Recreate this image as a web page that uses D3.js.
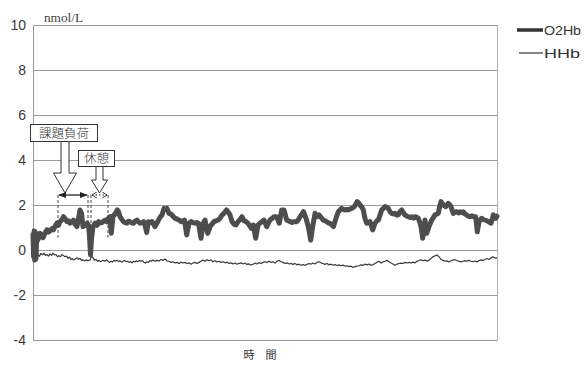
<!DOCTYPE html>
<html>
<head>
<meta charset="utf-8">
<script src="https://cdn.jsdelivr.net/npm/d3@7"></script>
<style>
  html, body { margin: 0; padding: 0; background: #fff; }
  svg { display: block; }
</style>
</head>
<body>
<svg id="chart" width="586" height="365"></svg>
<script>
// Concentration change (nmol/L) over elapsed time
const yTicks = [-4, -2, 0, 2, 4, 6, 8, 10];
const timeDomain = [0, 464];

// O2Hb: [time, value]
const o2hb = [[0,0.7],[0.6,-0.3],[1.2,0.85],[1.8,-0.45],[2.4,0.8],[3,-0.4],[3.7,0.6],[5,0.45],[7,0.74],[8.5,0.6],[10,0.55],[12,0.75],[14,0.9],[15.5,0.8],[17,0.85],[19,0.95],[20.5,0.9],[22,1.05],[24,1.2],[25.5,1.1],[27,1.26],[29,1.35],[30.5,1.48],[32,1.4],[34,1.26],[35.5,1.3],[37,1.19],[39,1.25],[40.5,1.33],[42,1.15],[44,1.04],[45.5,1.4],[47,1.78],[48.5,1.63],[50,1.04],[52,1.1],[54,1.19],[55.5,1.1],[56.5,0.6],[57.5,-0.22],[58.5,0.5],[60,1.04],[62,1.19],[64,1.1],[65.5,1.26],[67,1.2],[69,1.22],[71,1.3],[72.5,1.33],[74,1.25],[75.5,1.41],[77,1.48],[78.3,0.74],[80,1.5],[82,1.6],[84.3,1.78],[85.5,1.7],[87,1.48],[89,1.35],[90.5,1.26],[92,1.22],[94,1.19],[95.5,1.28],[97,1.26],[99,1.2],[100.5,1.19],[102,1.28],[104,1.33],[105.5,1.25],[107,1.19],[109,1.22],[110.5,1.26],[112,1.1],[113.7,0.78],[115.3,1.26],[117,1.22],[119,1.26],[120.5,1.15],[122,1.04],[124,1.2],[125.5,1.33],[127,1.45],[129,1.56],[131,1.85],[132.5,1.8],[134,1.85],[136,1.63],[138,1.6],[140,1.5],[142,1.41],[144,1.38],[146,1.33],[148,1.26],[150,1.3],[151.5,1.33],[153.7,0.67],[156,1.19],[158,1.26],[160,1.22],[162,1.19],[164,1.22],[165.5,1.19],[168,0.52],[170.3,1.19],[172,1.33],[174.7,0.74],[177,1.04],[179,1.15],[181,1.26],[183,1.3],[185,1.33],[187,1.41],[189,1.55],[191,1.63],[193.5,1.78],[195,1.7],[197,1.56],[199,1.26],[201,1.15],[203,1.11],[205,1.26],[207,1.35],[209,1.48],[211,1.3],[213,1.26],[215,1.19],[217,1.05],[218.5,0.96],[220.3,1.11],[222.7,0.52],[225,1.11],[227,1.2],[229,1.26],[231,1.33],[233.7,1.04],[235.5,1.2],[237,1.33],[239,1.4],[241,1.48],[243.5,1.48],[246.3,1.19],[248.7,1.78],[251,1.78],[253.7,1.33],[255.5,1.3],[257,1.26],[259,1.22],[261,1.26],[263.5,1.26],[265.5,1.35],[267,1.48],[269,1.6],[270.5,1.7],[273,1.41],[275.3,1.04],[277.7,0.44],[279.7,1.04],[282,1.63],[284,1.48],[286,1.56],[288,1.45],[290.3,1.33],[292,1.3],[293.7,1.26],[295.5,1.2],[297,1.19],[299,1.1],[300.5,1.04],[303,1.41],[305.3,1.7],[307,1.78],[308.7,1.85],[310.5,1.8],[312,1.78],[314,1.8],[315.5,1.78],[317,1.82],[318.7,1.85],[321.3,1.93],[323,2.05],[324.3,2.15],[325.5,2.1],[327,2.0],[329,1.9],[330.3,1.78],[332,1.4],[333.7,1.19],[335.5,1.22],[337,1.26],[339.7,0.89],[342,1.19],[344,1.3],[345.3,1.33],[347,1.55],[348.7,1.78],[350.5,1.85],[352,1.93],[354,1.9],[355.3,1.85],[357,1.7],[358.7,1.63],[360.5,1.6],[362,1.63],[364,1.55],[365.3,1.56],[367,1.7],[368.7,1.78],[370.5,1.65],[372,1.56],[374,1.5],[375.3,1.48],[377,1.45],[378.7,1.48],[380.5,1.42],[382,1.48],[384,1.45],[385.3,1.41],[387,1.2],[388,1.04],[389.7,0.52],[391,1.0],[392,1.33],[393.7,0.74],[395,0.9],[396,1.04],[398.7,1.33],[400.5,1.45],[402,1.56],[404,1.6],[405.3,1.63],[406.5,1.9],[408,2.15],[410.3,2.0],[412.7,1.93],[414,2.0],[415.3,2.07],[417,2.0],[418,1.93],[420.3,1.63],[422,1.68],[423.7,1.7],[425.5,1.65],[427,1.7],[429,1.66],[430.3,1.7],[432,1.6],[433.7,1.56],[435.5,1.5],[437,1.48],[439,1.52],[440.3,1.48],[442.7,1.48],[444.3,0.81],[446,1.26],[447.5,1.35],[448.7,1.41],[450.5,1.35],[452,1.33],[454,1.3],[455.3,1.26],[457,1.22],[458,1.19],[459.5,1.4],[460.3,1.56],[462,1.45],[462.7,1.41],[464,1.5]];

// HHb: [time, value]
const hhb = [[0,-0.5],[0.8,-0.2],[2,-0.15],[3.5,-0.25],[5,-0.18],[6.5,-0.28],[8,-0.15],[9.5,-0.22],[11,-0.14],[12.5,-0.24],[14,-0.2],[15.5,-0.27],[17,-0.17],[18.5,-0.24],[20,-0.14],[21.5,-0.22],[23,-0.2],[24.5,-0.3],[26,-0.25],[27.5,-0.3],[29,-0.2],[30.5,-0.25],[32,-0.3],[33.5,-0.27],[35,-0.37],[36.5,-0.32],[38,-0.42],[39.5,-0.38],[41,-0.45],[42.5,-0.38],[44,-0.35],[45.5,-0.42],[47,-0.37],[48.5,-0.46],[50,-0.44],[51.5,-0.48],[53,-0.44],[55,-0.47],[57,-0.45],[58.5,-0.28],[60,-0.33],[61.5,-0.45],[63,-0.42],[64.5,-0.5],[66,-0.46],[67.5,-0.52],[69,-0.48],[70.5,-0.46],[72,-0.5],[73.5,-0.44],[75,-0.5],[76.5,-0.55],[78,-0.5],[79.5,-0.53],[81,-0.46],[82.5,-0.5],[84,-0.45],[85.5,-0.52],[87,-0.48],[88.5,-0.54],[90,-0.5],[91.5,-0.46],[93,-0.52],[94.5,-0.5],[96,-0.55],[97.5,-0.52],[99,-0.57],[100.5,-0.5],[102,-0.53],[103.5,-0.48],[105,-0.52],[106.5,-0.46],[108,-0.5],[109.5,-0.47],[111,-0.55],[112.5,-0.58],[114,-0.52],[115.5,-0.55],[117,-0.47],[118.5,-0.5],[120,-0.44],[122,-0.5],[124,-0.46],[126,-0.49],[128,-0.42],[130,-0.46],[132,-0.4],[134,-0.48],[136,-0.5],[138,-0.55],[140,-0.52],[142,-0.58],[144,-0.55],[146,-0.6],[148,-0.54],[150,-0.58],[152,-0.55],[154,-0.6],[156,-0.57],[158,-0.63],[160,-0.58],[162,-0.55],[164,-0.6],[166,-0.55],[168,-0.5],[170,-0.45],[172,-0.5],[174,-0.43],[176,-0.48],[178,-0.44],[180,-0.52],[182,-0.48],[184,-0.53],[186,-0.5],[188,-0.55],[190,-0.52],[192,-0.57],[194,-0.54],[196,-0.6],[198,-0.57],[200,-0.62],[202,-0.58],[204,-0.63],[206,-0.6],[208,-0.57],[210,-0.62],[212,-0.58],[214,-0.64],[216,-0.62],[218,-0.67],[220,-0.63],[222,-0.58],[224,-0.62],[226,-0.56],[228,-0.6],[230,-0.55],[232,-0.52],[234,-0.56],[236,-0.5],[238,-0.55],[240,-0.52],[242,-0.58],[244,-0.5],[246,-0.46],[248,-0.52],[250,-0.55],[252,-0.6],[254,-0.57],[256,-0.62],[258,-0.6],[260,-0.64],[262,-0.6],[264,-0.66],[266,-0.63],[268,-0.68],[270,-0.65],[272,-0.68],[274,-0.64],[276,-0.6],[278,-0.63],[280,-0.58],[282,-0.62],[284,-0.55],[286,-0.52],[288,-0.57],[290,-0.6],[292,-0.64],[294,-0.6],[296,-0.66],[298,-0.63],[300,-0.68],[302,-0.65],[304,-0.69],[306,-0.66],[308,-0.7],[310,-0.67],[312,-0.72],[314,-0.7],[316,-0.74],[318,-0.72],[320,-0.78],[322,-0.74],[324,-0.72],[326,-0.7],[328,-0.66],[330,-0.68],[332,-0.63],[334,-0.66],[336,-0.62],[338,-0.68],[340,-0.65],[342,-0.6],[344,-0.54],[346,-0.5],[348,-0.58],[350,-0.53],[352,-0.5],[354,-0.46],[356,-0.52],[358,-0.58],[360,-0.62],[362,-0.68],[364,-0.63],[366,-0.6],[368,-0.58],[370,-0.6],[372,-0.55],[374,-0.58],[376,-0.55],[378,-0.58],[380,-0.54],[382,-0.57],[384,-0.5],[386,-0.47],[388,-0.43],[390,-0.48],[392,-0.45],[394,-0.5],[396,-0.45],[398,-0.38],[400,-0.3],[402,-0.26],[404,-0.22],[406,-0.3],[408,-0.42],[410,-0.46],[412,-0.5],[414,-0.48],[416,-0.53],[418,-0.48],[420,-0.45],[422,-0.43],[424,-0.47],[426,-0.5],[428,-0.53],[430,-0.5],[432,-0.47],[434,-0.5],[436,-0.46],[438,-0.5],[440,-0.52],[442,-0.49],[444,-0.53],[446,-0.47],[448,-0.44],[450,-0.47],[452,-0.42],[454,-0.38],[456,-0.42],[458,-0.35],[460,-0.3],[462,-0.36],[464,-0.35]];

// Task and rest periods (time units)
const taskPeriod = [25, 55];
const restPeriod = [58, 75];
const taskLabel = "課題負荷";
const restLabel = "休憩";
const seriesNames = ["O2Hb", "HHb"];
const unitLabel = "nmol/L";
const xTitle = "時　間";

const margin = { top: 25, right: 89, bottom: 25, left: 33 };
const W = 586, H = 365;
const svg = d3.select("#chart");

const x = d3.scaleLinear().domain(timeDomain).range([margin.left, W - margin.right]);
const y = d3.scaleLinear().domain([-4, 10]).range([H - margin.bottom, margin.top]);

const gridColor = "#9a9a9a";

// horizontal gridlines
svg.append("g")
  .selectAll("line")
  .data(yTicks)
  .join("line")
  .attr("x1", x(timeDomain[0]))
  .attr("x2", x(timeDomain[1]))
  .attr("y1", d => y(d) + 0.5)
  .attr("y2", d => y(d) + 0.5)
  .attr("stroke", gridColor)
  .attr("stroke-width", 1);

// plot frame sides
svg.append("line")
  .attr("x1", x(timeDomain[0]) + 0.5).attr("x2", x(timeDomain[0]) + 0.5)
  .attr("y1", y(10)).attr("y2", y(-4) + 1)
  .attr("stroke", gridColor);
svg.append("line")
  .attr("x1", x(timeDomain[1]) + 0.5).attr("x2", x(timeDomain[1]) + 0.5)
  .attr("y1", y(10)).attr("y2", y(-4) + 1)
  .attr("stroke", "#b0b0b0");

// y axis labels (plain hyphen for negatives)
const yAxis = d3.axisLeft(y).tickValues(yTicks).tickSize(0).tickPadding(7)
  .tickFormat(d => String(d));
const gy = svg.append("g").attr("transform", `translate(${margin.left},0)`).call(yAxis);
gy.select(".domain").remove();
gy.selectAll("text")
  .attr("font-family", "'Liberation Sans', Arial, sans-serif")
  .attr("font-size", 14)
  .attr("fill", "#3a3a3a");

// unit label
svg.append("text")
  .attr("x", 44).attr("y", 22)
  .attr("font-family", "'Liberation Serif', 'DejaVu Serif', serif")
  .attr("font-size", 11.5)
  .attr("fill", "#444")
  .attr("textLength", 39)
  .attr("lengthAdjust", "spacingAndGlyphs")
  .text(unitLabel);

// series lines
const line = d3.line().x(d => x(d[0])).y(d => y(d[1]));

svg.append("path")
  .datum(hhb)
  .attr("d", line)
  .attr("fill", "none")
  .attr("stroke", "#3a3a3a")
  .attr("stroke-width", 1.2)
  .attr("stroke-linejoin", "round");

svg.append("path")
  .datum(o2hb)
  .attr("d", line)
  .attr("fill", "none")
  .attr("stroke", "#4d4d4d")
  .attr("stroke-width", 5)
  .attr("stroke-linejoin", "round")
  .attr("stroke-linecap", "round");

// legend
const legend = svg.append("g").attr("font-family", "'Liberation Sans', Arial, sans-serif")
  .attr("font-size", 13).attr("fill", "#333");
const legendItems = [
  { name: seriesNames[0], width: 3.5, y: 30, x1: 517, len: 37 },
  { name: seriesNames[1], width: 1.2, y: 53, x1: 519, len: 36 }
];
legendItems.forEach(it => {
  legend.append("line")
    .attr("x1", it.x1).attr("x2", 543)
    .attr("y1", it.y).attr("y2", it.y)
    .attr("stroke", "#333").attr("stroke-width", it.width);
  legend.append("text")
    .attr("x", 544).attr("y", it.y + 4.5)
    .attr("textLength", it.len)
    .attr("lengthAdjust", "spacingAndGlyphs")
    .text(it.name);
});

// x axis title
svg.append("text")
  .attr("x", 260).attr("y", 359)
  .attr("text-anchor", "middle")
  .attr("font-family", "'Noto Sans CJK JP', sans-serif")
  .attr("font-size", 11)
  .attr("fill", "#333")
  .text(xTitle);

// ---- annotations ----
const ann = svg.append("g");
const annStroke = "#333";

// dashed period boundaries
[[taskPeriod[0], 0.55], [taskPeriod[1], 1.2], [restPeriod[0], 1.05], [restPeriod[1], 0.55]].forEach(([t, bottomV]) => {
  ann.append("line")
    .attr("x1", x(t)).attr("x2", x(t))
    .attr("y1", y(2) - 10)
    .attr("y2", y(bottomV))
    .attr("stroke", "#444").attr("stroke-width", 1)
    .attr("stroke-dasharray", "3,2");
});

// double-headed arrows spanning each period
const defs = svg.append("defs");
defs.append("marker").attr("id", "headFill").attr("viewBox", "0 0 10 10")
  .attr("refX", 9).attr("refY", 5).attr("markerWidth", 6).attr("markerHeight", 6)
  .attr("orient", "auto-start-reverse")
  .append("path").attr("d", "M0,1 L10,5 L0,9 Z").attr("fill", "#222");
defs.append("marker").attr("id", "headOpen").attr("viewBox", "0 0 10 10")
  .attr("refX", 9).attr("refY", 5).attr("markerWidth", 6).attr("markerHeight", 7)
  .attr("orient", "auto-start-reverse")
  .append("path").attr("d", "M1,0 L9,5 L1,10").attr("fill", "none").attr("stroke", "#222").attr("stroke-width", 1.5);

const arrowY = y(2) - 10;
ann.append("line")
  .attr("x1", x(taskPeriod[0]) + 1).attr("x2", x(taskPeriod[1]) - 1)
  .attr("y1", arrowY).attr("y2", arrowY)
  .attr("stroke", "#222").attr("stroke-width", 1.3)
  .attr("marker-start", "url(#headFill)").attr("marker-end", "url(#headFill)");
ann.append("line")
  .attr("x1", x(restPeriod[0]) + 1).attr("x2", x(restPeriod[1]) - 1)
  .attr("y1", arrowY).attr("y2", arrowY)
  .attr("stroke", "#222").attr("stroke-width", 1).attr("stroke-dasharray", "1.5,2")
  .attr("marker-start", "url(#headOpen)").attr("marker-end", "url(#headOpen)");

// block arrow from a label box down to its period
function blockArrow(cx, top, headTop, tip, shaftHalf, headHalf) {
  const p = d3.path();
  p.moveTo(cx - shaftHalf, top);
  p.lineTo(cx - shaftHalf, headTop);
  p.lineTo(cx - headHalf, headTop);
  p.lineTo(cx, tip);
  p.lineTo(cx + headHalf, headTop);
  p.lineTo(cx + shaftHalf, headTop);
  p.lineTo(cx + shaftHalf, top);
  return p.toString();
}
function labelBox(text, bx, by, bw, bh) {
  ann.append("rect").attr("x", bx + 0.5).attr("y", by + 0.5)
    .attr("width", bw).attr("height", bh)
    .attr("fill", "#fff").attr("stroke", annStroke).attr("stroke-width", 1);
  ann.append("text")
    .attr("x", bx + bw / 2 + 0.5).attr("y", by + bh / 2 + 5)
    .attr("text-anchor", "middle")
    .attr("font-family", "'Noto Sans CJK JP', sans-serif")
    .attr("font-size", 12.5)
    .attr("font-weight", 300)
    .attr("fill", "#333")
    .text(text);
}

const taskMid = x((taskPeriod[0] + taskPeriod[1]) / 2) - 8;
const restMid = x((restPeriod[0] + restPeriod[1]) / 2);
ann.append("path")
  .attr("d", blockArrow(taskMid, 141, 173, 193, 4, 11.5))
  .attr("fill", "#fff").attr("stroke", annStroke).attr("stroke-width", 1);
ann.append("path")
  .attr("d", blockArrow(restMid, 166, 180, 193, 3.5, 8))
  .attr("fill", "#fff").attr("stroke", annStroke).attr("stroke-width", 1);
labelBox(taskLabel, 30, 124, 67, 17);
labelBox(restLabel, 78, 150, 36, 16);
</script>
</body>
